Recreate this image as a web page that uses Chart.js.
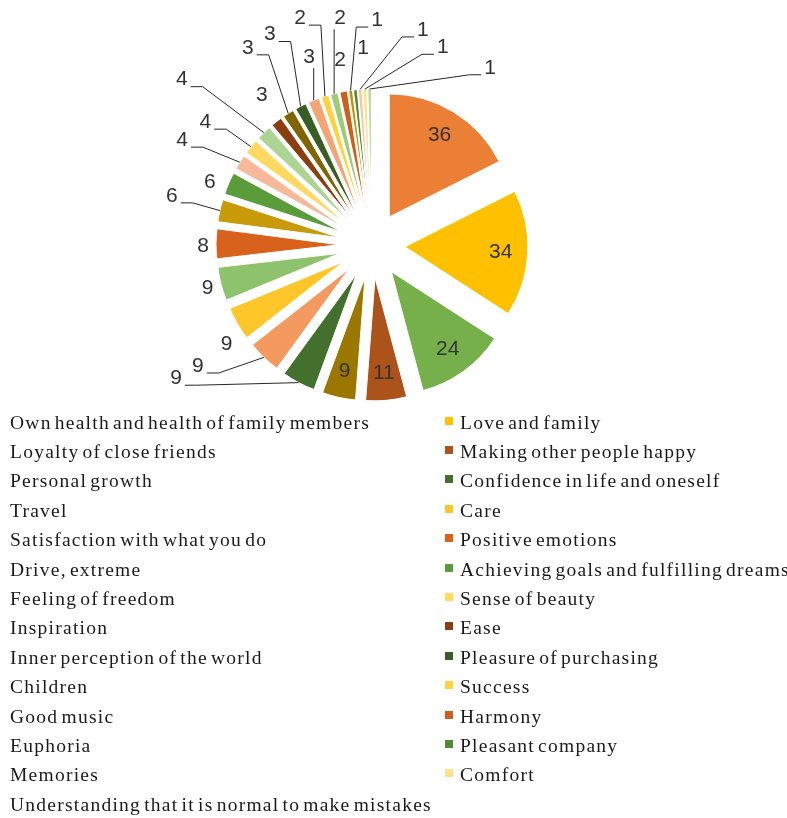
<!DOCTYPE html>
<html>
<head>
<meta charset="utf-8">
<script src="https://cdn.jsdelivr.net/npm/chart.js@4.4.1/dist/chart.umd.min.js"></script>
<style>
  html, body { margin: 0; padding: 0; background: #fff; }
  body { width: 787px; height: 818px; overflow: hidden; position: relative; }
  #pie-wrap { position: absolute; left: 0; top: 0; width: 787px; height: 410px; }
  #legend {
    position: absolute; left: -5px; top: 408px;
    display: grid; grid-template-columns: 450px 345px;
    clip-path: inset(0 0 0 9px);
    font-family: "Liberation Serif", serif; font-size: 19.5px;
    letter-spacing: 1.25px; word-spacing: -3px; color: #1a1a1a;
  }
  .item { display: flex; align-items: center; height: 29.4px; white-space: nowrap; }
  .box { width: 8px; height: 8px; margin-right: 7px; position: relative; top: -2px; flex: none; }
</style>
</head>
<body>
<div id="pie-wrap"><canvas id="pie"></canvas></div>
<div id="legend"></div>
<script>
const categories = [
  'Own health and health of family members', 'Love and family',
  'Loyalty of close friends', 'Making other people happy',
  'Personal growth', 'Confidence in life and oneself',
  'Travel', 'Care',
  'Satisfaction with what you do', 'Positive emotions',
  'Drive, extreme', 'Achieving goals and fulfilling dreams',
  'Feeling of freedom', 'Sense of beauty',
  'Inspiration', 'Ease',
  'Inner perception of the world', 'Pleasure of purchasing',
  'Children', 'Success',
  'Good music', 'Harmony',
  'Euphoria', 'Pleasant company',
  'Memories', 'Comfort',
  'Understanding that it is normal to make mistakes'
];
const counts = [36, 34, 24, 11, 9, 9, 9, 9, 9, 8, 6, 6, 4, 4, 4, 3, 3, 3, 3, 2, 2, 2, 1, 1, 1, 1, 1];

const sliceColors = [
  '#eb7f35', '#ffc000', '#75b04a', '#ac521b', '#9b7700', '#44702d',
  '#f49a60', '#ffc629', '#8fc26c', '#d8621c', '#c99a0a', '#5a9c3a',
  '#f7b999', '#ffd961', '#add494', '#8b3e10', '#806400', '#3a5c25',
  '#f5a474', '#ffd23f', '#9ccb7a', '#ce5e1e', '#c29105', '#4e8a33',
  '#f8c4a4', '#ffe08a', '#bcdda6'
];

// where each number sits: null = inside the slice,
// otherwise [degrees clockwise from top, distance from pie centre, leader line?]
const labelSpots = [
  null, null, null, null, null,
  [235.8, 237, true], [235.2, 212, true], [235.7, 176, false], [255.3, 170, false],
  [269.7, 169, false], [283.8, 206, true], [291.3, 174, false], [298.9, 217, true],
  [306.4, 207, true], [311.0, 252, true], [323.7, 186, false], [327.8, 233, true],
  [334.1, 234, true], [341.5, 198, true], [342.4, 238, true], [352.0, 229, true],
  [350.2, 188, false], [1.3, 225, true], [357.4, 197, false], [13.3, 221, true],
  [19.7, 210, true], [33.7, 213, true]
];

const EXPLODE = 33;
const PIE_RADIUS = 123;

// pull every slice out along its middle angle, then let the arc draw itself
const explodePlugin = {
  id: 'explode',
  beforeDatasetDraw(chart, args) {
    const ctx = chart.ctx;
    args.meta.data.forEach(function(arc) {
      const mid = (arc.startAngle + arc.endAngle) / 2;
      ctx.save();
      ctx.translate(Math.cos(mid) * EXPLODE, Math.sin(mid) * EXPLODE);
      arc.draw(ctx);
      ctx.restore();
    });
    return false;
  }
};

const valueLabelPlugin = {
  id: 'valueLabels',
  afterDatasetsDraw(chart) {
    const ctx = chart.ctx;
    const arcs = chart.getDatasetMeta(0).data;
    ctx.save();
    ctx.font = '21px "Liberation Sans", sans-serif';
    ctx.textAlign = 'center';
    ctx.textBaseline = 'middle';
    arcs.forEach(function(arc, i) {
      const mid = (arc.startAngle + arc.endAngle) / 2;
      const text = String(counts[i]);
      const spot = labelSpots[i];
      let x, y;
      if (spot === null) {
        const r = EXPLODE + arc.outerRadius * 0.78;
        x = arc.x + Math.cos(mid) * r;
        y = arc.y + Math.sin(mid) * r;
      } else {
        const a = (spot[0] - 90) * Math.PI / 180;
        x = arc.x + Math.cos(a) * spot[1];
        y = arc.y + Math.sin(a) * spot[1];
        if (spot[2]) {
          const edge = EXPLODE + arc.outerRadius;
          const ax = arc.x + Math.cos(mid) * edge;
          const ay = arc.y + Math.sin(mid) * edge;
          const halfW = ctx.measureText(text).width / 2;
          const side = ax < x ? -1 : 1;
          const sx = x + side * (halfW + 3);
          ctx.beginPath();
          ctx.strokeStyle = '#262626';
          ctx.lineWidth = 1;
          if ((sx - ax) * side >= 0) {
            ctx.moveTo(ax, y + 11);
          } else {
            let ex = sx + side * 12;
            if ((ex - ax) * side > 0) ex = ax;
            ctx.moveTo(sx, y + 7);
            ctx.lineTo(ex, y + 7);
          }
          ctx.lineTo(ax, ay);
          ctx.stroke();
        }
      }
      ctx.fillStyle = '#333333';
      ctx.fillText(text, x, y);
    });
    ctx.restore();
  }
};

new Chart(document.getElementById('pie'), {
  type: 'pie',
  data: {
    labels: categories,
    datasets: [{
      data: counts,
      backgroundColor: sliceColors,
      borderColor: '#ffffff',
      borderWidth: 1,
      radius: PIE_RADIUS
    }]
  },
  options: {
    responsive: true,
    maintainAspectRatio: false,
    animation: false,
    layout: { padding: { left: 0, right: 43, top: 80, bottom: 0 } },
    plugins: {
      legend: { display: false },
      tooltip: { enabled: false }
    }
  },
  plugins: [explodePlugin, valueLabelPlugin]
});

// two column legend under the pie
const legend = document.getElementById('legend');
categories.forEach(function(name, i) {
  const item = document.createElement('div');
  item.className = 'item';
  const box = document.createElement('span');
  box.className = 'box';
  box.style.background = sliceColors[i];
  const label = document.createElement('span');
  label.textContent = name;
  item.appendChild(box);
  item.appendChild(label);
  legend.appendChild(item);
});
</script>
</body>
</html>
